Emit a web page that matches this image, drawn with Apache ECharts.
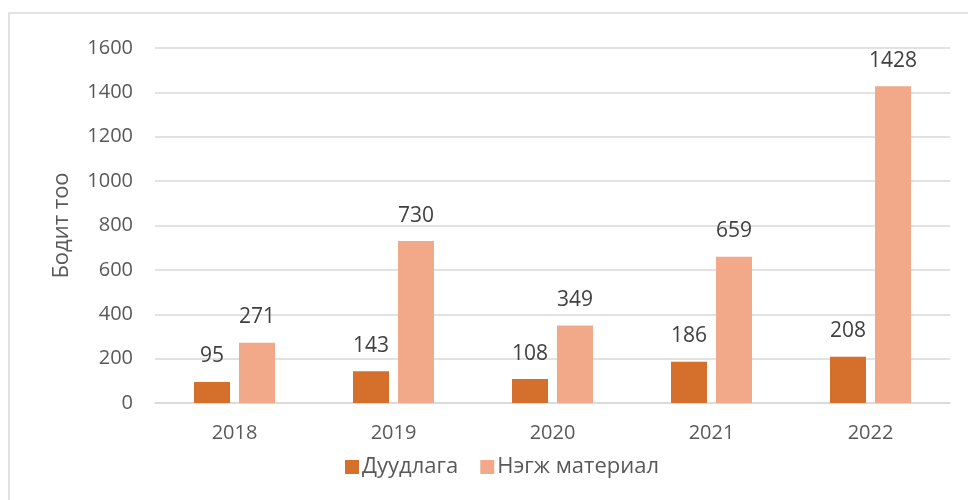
<!DOCTYPE html>
<html>
<head>
<meta charset="utf-8">
<script src="https://cdn.jsdelivr.net/npm/echarts@6/dist/echarts.min.js"></script>
<style>
  html, body { margin: 0; padding: 0; background: #fff; }
  #main { width: 968px; height: 500px; }
</style>
</head>
<body>
<div id="main"></div>
<script>
var years = ["2018", "2019", "2020", "2021", "2022"];
var duudlaga = [95, 143, 108, 186, 208];
var negjMaterial = [271, 730, 349, 659, 1428];
var seriesNames = ["Дуудлага", "Нэгж материал"];
var yAxisName = "Бодит тоо";

var font = "'Open Sans', 'Noto Sans', sans-serif";
var chart = echarts.init(document.getElementById("main"));

var option = {
  textStyle: { fontFamily: font },
  color: ["#D4702B", "#F2A98A"],
  graphic: [{
    type: "rect",
    shape: { x: 9, y: 13, width: 1000, height: 600 },
    style: { fill: "none", stroke: "#D9D9D9", lineWidth: 1.5 },
    silent: true
  }],
  grid: { left: 155, right: 18, top: 48, bottom: 97 },
  legend: {
    bottom: 17,
    left: 340,
    itemWidth: 14,
    itemHeight: 14,
    itemGap: 22,
    icon: "rect",
    textStyle: { fontSize: 22, color: "#595959", fontFamily: font, padding: [0, 0, 0, -2] }
  },
  xAxis: {
    type: "category",
    data: years,
    axisLine: { lineStyle: { color: "#D9D9D9", width: 1.5 } },
    axisTick: { show: false },
    axisLabel: { fontSize: 20, color: "#595959", margin: 20, fontFamily: font }
  },
  yAxis: {
    type: "value",
    min: 0,
    max: 1600,
    interval: 200,
    name: yAxisName,
    nameLocation: "middle",
    nameGap: 82,
    nameTextStyle: { fontSize: 22, color: "#595959", fontFamily: font },
    axisLine: { show: false },
    axisTick: { show: false },
    axisLabel: {
      fontSize: 20, color: "#595959", margin: 22, fontFamily: font,
      formatter: function (v) { return String(v); }
    },
    splitLine: { lineStyle: { color: "#D9D9D9", width: 1.5 } }
  },
  series: [
    {
      name: seriesNames[0],
      type: "bar",
      data: duudlaga,
      barWidth: 36,
      barGap: "25%",
      label: { show: true, position: "top", distance: 15, fontSize: 21, color: "#404040", fontFamily: font }
    },
    {
      name: seriesNames[1],
      type: "bar",
      data: negjMaterial,
      barWidth: 36,
      label: { show: true, position: "top", distance: 15, fontSize: 21, color: "#404040", fontFamily: font }
    }
  ]
};
chart.setOption(option);
</script>
</body>
</html>
